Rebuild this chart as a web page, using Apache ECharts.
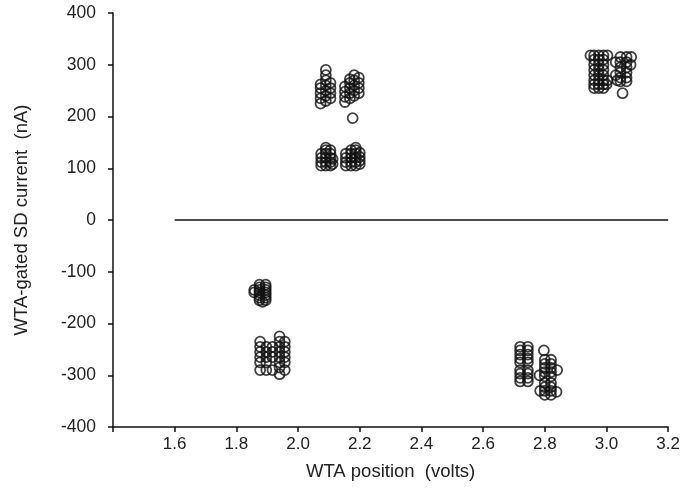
<!DOCTYPE html>
<html>
<head>
<meta charset="utf-8">
<script src="https://cdn.jsdelivr.net/npm/echarts@6/dist/echarts.min.js"></script>
<style>html,body{margin:0;padding:0;background:#fff;}#c{width:683px;height:496px;}</style>
</head>
<body>
<div id="c"></div>
<script>
// Tick labels
var xTicks = [1.4, 1.6, 1.8, 2.0, 2.2, 2.4, 2.6, 2.8, 3.0, 3.2];
var yTicks = [-400, -300, -200, -100, 0, 100, 200, 300, 400];
// Zero reference line
var zeroLine = [[1.6, 0], [3.2, 0]];

// Cluster near 1.9 V (upper)
var clusterA = [[1.875,-125],[1.895,-125],[1.875,-130],[1.895,-130],[1.858,-135],[1.875,-135],[1.895,-135],
  [1.858,-140],[1.875,-140],[1.895,-140],[1.875,-145],[1.895,-145],[1.875,-150],[1.895,-150],
  [1.875,-155],[1.895,-155],[1.885,-158]];
// Cluster near 1.9 V (lower)
var clusterB = [[1.877,-235],[1.877,-245],[1.877,-255],[1.877,-265],[1.877,-275],[1.877,-290],
  [1.897,-245],[1.897,-255],[1.897,-265],[1.897,-275],[1.897,-290],
  [1.917,-245],[1.917,-255],[1.917,-265],[1.917,-290],
  [1.94,-225],[1.94,-235],[1.94,-245],[1.94,-255],[1.94,-265],[1.94,-275],[1.94,-285],[1.94,-298],
  [1.957,-235],[1.957,-245],[1.957,-255],[1.957,-265],[1.957,-275],[1.957,-290]];
// Cluster near 2.1 V (upper)
var clusterC1 = [[2.073,225],[2.073,235],[2.073,245],[2.073,255],[2.073,262],
  [2.09,230],[2.09,240],[2.09,250],[2.09,260],[2.09,270],[2.09,280],[2.09,290],
  [2.105,235],[2.105,245],[2.105,255],[2.105,265]];
// Cluster near 2.2 V (upper)
var clusterC2 = [[2.152,228],[2.152,238],[2.152,248],[2.152,258],
  [2.168,235],[2.168,245],[2.168,255],[2.168,265],[2.168,272],
  [2.182,240],[2.182,250],[2.182,260],[2.182,270],[2.182,280],
  [2.197,245],[2.197,255],[2.197,265],[2.197,275],[2.177,197]];
// Cluster near 2.1 V (lower)
var clusterC3 = [[2.075,105],[2.075,112],[2.075,120],[2.075,128],
  [2.09,105],[2.09,112],[2.09,120],[2.09,128],[2.09,135],[2.09,140],
  [2.105,105],[2.105,112],[2.105,120],[2.105,128],[2.105,135],[2.112,108],[2.112,118]];
// Cluster near 2.2 V (lower)
var clusterC4 = [[2.155,105],[2.155,112],[2.155,120],[2.155,128],
  [2.172,105],[2.172,112],[2.172,120],[2.172,128],[2.172,135],
  [2.187,105],[2.187,112],[2.187,120],[2.187,128],[2.187,135],[2.187,140],
  [2.2,108],[2.2,115],[2.2,122],[2.2,130]];
// Cluster near 2.75 V
var clusterD1 = [[2.72,-245],[2.72,-252],[2.72,-260],[2.72,-268],[2.72,-275],[2.72,-290],[2.72,-297],[2.72,-305],[2.72,-312],
  [2.745,-245],[2.745,-252],[2.745,-260],[2.745,-268],[2.745,-275],[2.745,-290],[2.745,-297],[2.745,-305],[2.745,-312]];
// Cluster near 2.8 V
var clusterD2 = [[2.797,-252],
  [2.80,-270],[2.80,-278],[2.80,-286],[2.80,-294],[2.80,-302],
  [2.82,-270],[2.82,-278],[2.82,-286],[2.82,-294],[2.82,-302],
  [2.783,-300],[2.84,-290],
  [2.80,-315],[2.80,-323],[2.80,-330],[2.80,-338],
  [2.82,-315],[2.82,-323],[2.82,-330],[2.82,-338],
  [2.785,-330],[2.838,-332]];
// Cluster near 2.97 V
var clusterE1 = [[2.96,318],[2.96,310],[2.96,300],[2.96,290],[2.96,280],[2.96,270],[2.96,262],[2.96,255],
  [2.975,318],[2.975,310],[2.975,300],[2.975,290],[2.975,280],[2.975,270],[2.975,262],[2.975,255],
  [2.99,318],[2.99,310],[2.99,300],[2.99,290],[2.99,280],[2.99,270],[2.99,262],[2.99,255],
  [2.948,318],[3.003,318],[3.003,270],[3.0,262]];
// Cluster near 3.05 V
var clusterE2 = [[3.045,315],[3.045,305],[3.045,295],[3.045,285],[3.045,275],[3.045,268],
  [3.065,315],[3.065,305],[3.065,295],[3.065,285],[3.065,275],[3.065,268],
  [3.03,305],[3.03,280],[3.035,270],[3.08,315],[3.078,300],[3.052,245]];

var allPoints = [].concat(clusterA, clusterB, clusterC1, clusterC2, clusterC3, clusterC4, clusterD1, clusterD2, clusterE1, clusterE2);

var txt = '#222';
var font = 'Liberation Sans, Arial, sans-serif';
var chart = echarts.init(document.getElementById('c'), null, {renderer: 'canvas'});
chart.setOption({
  animation: false,
  backgroundColor: '#fff',
  grid: {left: 113, right: 12, top: 13, bottom: 69, containLabel: false},
  xAxis: {
    type: 'value', min: xTicks[0], max: xTicks[xTicks.length - 1], interval: 0.2,
    name: 'WTA position  (volts)', nameLocation: 'middle', nameGap: 35,
    nameTextStyle: {color: txt, fontSize: 18.5, fontFamily: font},
    axisLine: {onZero: false, lineStyle: {color: '#111', width: 1.5}},
    axisTick: {length: 5, lineStyle: {color: '#111', width: 1.5}},
    splitLine: {show: false},
    axisLabel: {color: txt, fontSize: 17, fontFamily: font, margin: 9,
      formatter: function (v) { return Math.abs(v - xTicks[0]) < 1e-6 ? '' : v.toFixed(1); }}
  },
  yAxis: {
    type: 'value', min: yTicks[0], max: yTicks[yTicks.length - 1], interval: 100,
    name: 'WTA-gated SD current  (nA)', nameLocation: 'middle', nameGap: 82, nameRotate: 90,
    nameTextStyle: {color: txt, fontSize: 18.5, fontFamily: font},
    axisLine: {lineStyle: {color: '#111', width: 1.5}},
    axisTick: {length: 5, lineStyle: {color: '#111', width: 1.5}},
    splitLine: {show: false},
    axisLabel: {color: txt, fontSize: 17.5, fontFamily: font, margin: 17}
  },
  series: [
    {type: 'line', data: zeroLine, symbol: 'none', silent: true,
     lineStyle: {color: '#111', width: 1.5}},
    {type: 'scatter', data: allPoints, symbol: 'circle', symbolSize: 10,
     itemStyle: {color: 'rgba(0,0,0,0)', borderColor: '#111', borderWidth: 1.8}}
  ]
});
</script>
</body>
</html>
